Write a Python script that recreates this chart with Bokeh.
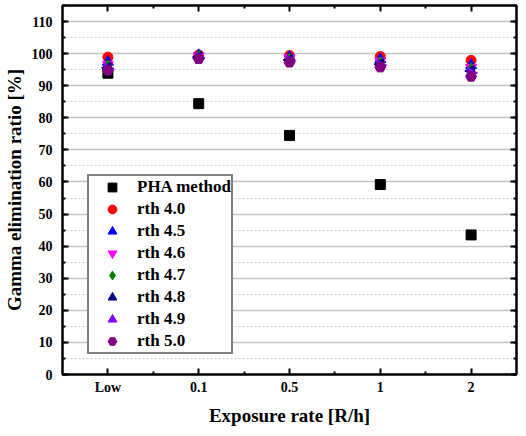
import numpy as np
from bokeh.plotting import figure
from bokeh.models import (ColumnDataSource, FixedTicker, SingleIntervalTicker, LinearAxis,
                          Range1d, Legend, LegendItem, CustomLabelingPolicy)
from bokeh.embed import file_html
from bokeh.resources import INLINE

categories = ["Low", "0.1", "0.5", "1", "2"]
pha = [93.9, 84.4, 74.5, 59.2, 43.5]
rth40 = [98.9, 99.6, 99.4, 99.1, 97.9]
rth45 = [97.4, 99.5, 99.0, 98.2, 96.4]
rth46 = [96.6, 99.3, 98.6, 97.6, 95.6]
rth47 = [96.2, 99.1, 98.3, 97.2, 95.2]
rth48 = [95.6, 98.9, 98.0, 96.7, 94.6]
rth49 = [95.3, 98.7, 97.8, 96.4, 94.0]
rth50 = [94.8, 98.4, 97.3, 95.8, 92.9]

series = [
    ("PHA method", pha, "square", "#000000", 0.0, 10),
    ("rth 4.0", rth40, "circle", "#ff0000", 0.0, 10),
    ("rth 4.5", rth45, "triangle", "#0000ff", 0.0, 11),
    ("rth 4.6", rth46, "inverted_triangle", "#ff00ff", 0.0, 11),
    ("rth 4.7", rth47, "diamond", "#008000", 0.0, 12),
    ("rth 4.8", rth48, "triangle", "#000080", np.pi / 2, 11),
    ("rth 4.9", rth49, "triangle", "#8000ff", -np.pi / 2, 11),
    ("rth 5.0", rth50, "hex", "#800080", 0.0, 11),
]

FONT = "Liberation Serif"
xs = list(range(len(categories)))

p = figure(width=518, height=428, output_backend="svg", toolbar_location=None,
           x_range=Range1d(-0.5, 4.5), y_range=Range1d(0, 115),
           min_border_left=0, min_border_right=2, min_border_top=5, min_border_bottom=0)
p.background_fill_color = "white"
p.border_fill_color = "white"
p.outline_line_color = "black"
p.outline_line_width = 2

# axes
p.xaxis.ticker = FixedTicker(ticks=xs, minor_ticks=[x + 0.5 for x in xs[:-1]])
p.xaxis.major_label_overrides = {i: c for i, c in enumerate(categories)}
p.yaxis.ticker = SingleIntervalTicker(interval=10, num_minor_ticks=2)

for ax in [p.xaxis[0], p.yaxis[0]]:
    ax.axis_line_width = 2
    ax.major_tick_in = 6
    ax.major_tick_out = 0
    ax.minor_tick_in = 3
    ax.minor_tick_out = 0
    ax.major_tick_line_width = 2
    ax.minor_tick_line_width = 2
    ax.major_label_text_font = FONT
    ax.major_label_text_font_style = "bold"
    ax.major_label_text_font_size = "14px"
    ax.major_label_text_color = "black"
    ax.axis_label_text_font = FONT
    ax.axis_label_text_font_style = "bold"
    ax.axis_label_text_font_size = "19px"
    ax.axis_label_text_color = "black"

p.xaxis.axis_label = "Exposure rate [R/h]"
p.yaxis.axis_label = "Gamma elimination ratio [%]"
p.xaxis.major_label_standoff = 5
p.xaxis.axis_label_standoff = 7
p.yaxis.major_label_standoff = 10
p.yaxis.axis_label_standoff = 4

# mirror axes (ticks only, no labels)
top = LinearAxis(ticker=FixedTicker(ticks=xs, minor_ticks=[x + 0.5 for x in xs[:-1]]))
right = LinearAxis(ticker=SingleIntervalTicker(interval=10, num_minor_ticks=2))
for ax in [top, right]:
    ax.axis_line_width = 2
    ax.major_tick_in = 6
    ax.major_tick_out = 0
    ax.minor_tick_in = 3
    ax.minor_tick_out = 0
    ax.major_tick_line_width = 2
    ax.minor_tick_line_width = 2
    ax.major_label_text_font_size = "0px"
    ax.major_label_standoff = 0
    ax.major_label_policy = CustomLabelingPolicy(code="return new Set()")
p.add_layout(top, "above")
p.add_layout(right, "right")

# grid
p.xgrid.grid_line_color = None
p.ygrid.grid_line_color = "#c4c4c4"
p.ygrid.grid_line_width = 1.5
p.ygrid.minor_grid_line_color = "#cccccc"
p.ygrid.minor_grid_line_dash = "2 2"
p.ygrid.minor_grid_line_width = 1

items = []
for name, vals, marker, color, ang, size in series:
    src = ColumnDataSource(dict(x=xs, y=vals))
    r = p.scatter("x", "y", source=src, marker=marker, size=size, angle=ang,
                  fill_color=color, line_color=color)
    items.append(LegendItem(label=name, renderers=[r]))

legend = Legend(items=items, location=(25, 20))
legend.label_text_font = FONT
legend.label_text_font_style = "bold"
legend.label_text_font_size = "17px"
legend.label_text_color = "black"
legend.glyph_width = 46
legend.glyph_height = 22
legend.label_height = 22
legend.label_standoff = 2
legend.spacing = 0
legend.padding = 0
legend.margin = 0
legend.border_line_color = "black"
legend.border_line_width = 2
legend.background_fill_alpha = 1.0
p.add_layout(legend, "center")

open("out.html", "w").write(file_html(p, INLINE))
